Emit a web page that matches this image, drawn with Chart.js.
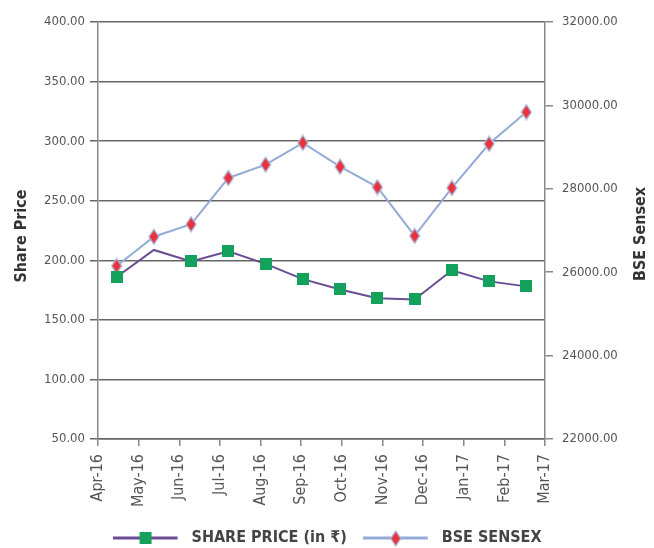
<!DOCTYPE html>
<html>
<head>
<meta charset="utf-8">
<script src="https://cdn.jsdelivr.net/npm/chart.js@4.4.1/dist/chart.umd.min.js"></script>
<style>
  html, body { margin: 0; padding: 0; background: #fff; }
  #wrap { width: 654px; height: 548px; }
</style>
</head>
<body>
<div id="wrap"><canvas id="priceChart" width="654" height="548"></canvas></div>
<script>
// values
const monthLabels = ['Apr-16', 'May-16', 'Jun-16', 'Jul-16', 'Aug-16', 'Sep-16',
                     'Oct-16', 'Nov-16', 'Dec-16', 'Jan-17', 'Feb-17', 'Mar-17'];
const sharePrice = [186, 208.7, 199, 207.6, 197, 184.2, 175.5, 168.2, 167.1, 191.6, 182.3, 178.1];
const sensex = [26150, 26850, 27150, 28260, 28580, 29100, 28530, 28040, 26870, 28020, 29080, 29840];
const priceTicks = [50, 100, 150, 200, 250, 300, 350, 400];
const sensexTicks = [22000, 24000, 26000, 28000, 30000, 32000];

const FONT = "'DejaVu Sans Condensed', 'Liberation Sans Narrow', sans-serif";
const PURPLE = '#6a4c93';
const BLUE = '#93abd6';
const GREEN = '#13a15b';
const RED = '#e8323c';

function makeSquare(size) {
    const c = document.createElement('canvas');
    c.width = size; c.height = size;
    const g = c.getContext('2d');
    g.fillStyle = GREEN;
    g.fillRect(0, 0, size, size);
    return c;
}

function makeDiamond(w, h) {
    const c = document.createElement('canvas');
    c.width = w + 2; c.height = h + 2;
    const g = c.getContext('2d');
    g.beginPath();
    g.moveTo(c.width / 2, 1);
    g.lineTo(c.width - 1, c.height / 2);
    g.lineTo(c.width / 2, c.height - 1);
    g.lineTo(1, c.height / 2);
    g.closePath();
    g.fillStyle = RED;
    g.fill();
    g.strokeStyle = '#a9bde0';
    g.lineWidth = 1.3;
    g.stroke();
    return c;
}

// line sample + marker, with a little empty room on the right before the text
function makeLegendIcon(color, marker) {
    const c = document.createElement('canvas');
    c.width = 71; c.height = 18;
    const g = c.getContext('2d');
    g.strokeStyle = color;
    g.lineWidth = 3;
    g.beginPath();
    g.moveTo(0, 9);
    g.lineTo(65, 9);
    g.stroke();
    g.drawImage(marker, Math.round((65 - marker.width) / 2), Math.round((18 - marker.height) / 2));
    return c;
}

const squareMark = makeSquare(12);
const diamondMark = makeDiamond(10, 15);
const legendIcons = [makeLegendIcon(PURPLE, squareMark), makeLegendIcon(BLUE, diamondMark)];

const sideTitles = {
    id: 'sideTitles',
    afterDraw(chart) {
        const ctx = chart.ctx;
        [['Share Price', 22, 236], ['BSE Sensex', 641, 234]].forEach(([text, x, y]) => {
            ctx.save();
            ctx.font = 'bold 16px ' + FONT;
            ctx.fillStyle = '#333';
            ctx.textAlign = 'center';
            ctx.textBaseline = 'middle';
            ctx.translate(x, y);
            ctx.rotate(-Math.PI / 2);
            ctx.fillText(text, 0, 0);
            ctx.restore();
        });
    }
};

const ctx = document.getElementById('priceChart').getContext('2d');
new Chart(ctx, {
    type: 'line',
    data: {
        datasets: [{
            label: 'SHARE PRICE (in ₹)',
            data: sharePrice.map((v, i) => ({ x: i + 0.5, y: v })),
            borderColor: PURPLE,
            borderWidth: 2,
            pointStyle: squareMark,
            pointRadius: sharePrice.map((v, i) => i === 1 ? 0 : 6),
            yAxisID: 'y',
            tension: 0
        }, {
            label: 'BSE SENSEX',
            data: sensex.map((v, i) => ({ x: i + 0.5, y: v })),
            borderColor: BLUE,
            borderWidth: 2,
            pointStyle: diamondMark,
            pointRadius: 6,
            yAxisID: 'y1',
            tension: 0
        }]
    },
    options: {
        responsive: false,
        animation: false,
        layout: { padding: { top: 22, bottom: -8 } },
        plugins: {
            tooltip: { enabled: false },
            legend: {
                position: 'bottom',
                labels: {
                    usePointStyle: true,
                    pointStyleWidth: 71,
                    padding: 16,
                    color: '#444',
                    font: { family: FONT, size: 16, weight: 'bold' },
                    generateLabels: chart => chart.data.datasets.map((ds, i) => ({
                        text: ds.label,
                        pointStyle: legendIcons[i],
                        fillStyle: 'transparent',
                        strokeStyle: 'transparent',
                        lineWidth: 0,
                        fontColor: '#444',
                        datasetIndex: i
                    }))
                }
            }
        },
        scales: {
            x: {
                type: 'linear',
                min: 0,
                max: monthLabels.length,
                afterBuildTicks: scale => {
                    const n = monthLabels.length;
                    scale.ticks = monthLabels.map((m, k) => ({ value: k * n / (n - 1) }));
                },
                afterFit: scale => { scale.height = 75; },
                grid: { drawOnChartArea: false, tickLength: 7, color: '#888', lineWidth: 1.5 },
                border: { color: '#666', width: 1.5 },
                ticks: {
                    autoSkip: false,
                    minRotation: 90,
                    maxRotation: 90,
                    padding: 8,
                    color: '#555',
                    font: { family: FONT, size: 16 },
                    callback: (v, i) => monthLabels[i]
                }
            },
            y: {
                position: 'left',
                min: priceTicks[0],
                max: priceTicks[priceTicks.length - 1],
                afterFit: scale => { scale.width = 98; },
                grid: { color: '#666', lineWidth: 1.5, tickLength: 8 },
                border: { color: '#888', width: 1.5 },
                ticks: {
                    stepSize: priceTicks[1] - priceTicks[0],
                    padding: 5,
                    color: '#555',
                    font: { family: FONT, size: 13 },
                    callback: v => v.toFixed(2)
                }
            },
            y1: {
                position: 'right',
                min: sensexTicks[0],
                max: sensexTicks[sensexTicks.length - 1],
                afterFit: scale => { scale.width = 109; },
                grid: { drawOnChartArea: false, color: '#888', lineWidth: 1.5, tickLength: 8 },
                border: { color: '#888', width: 1.5 },
                ticks: {
                    stepSize: sensexTicks[1] - sensexTicks[0],
                    padding: 9,
                    color: '#555',
                    font: { family: FONT, size: 13 },
                    callback: v => v.toFixed(2)
                }
            }
        }
    },
    plugins: [sideTitles]
});
</script>
</body>
</html>
